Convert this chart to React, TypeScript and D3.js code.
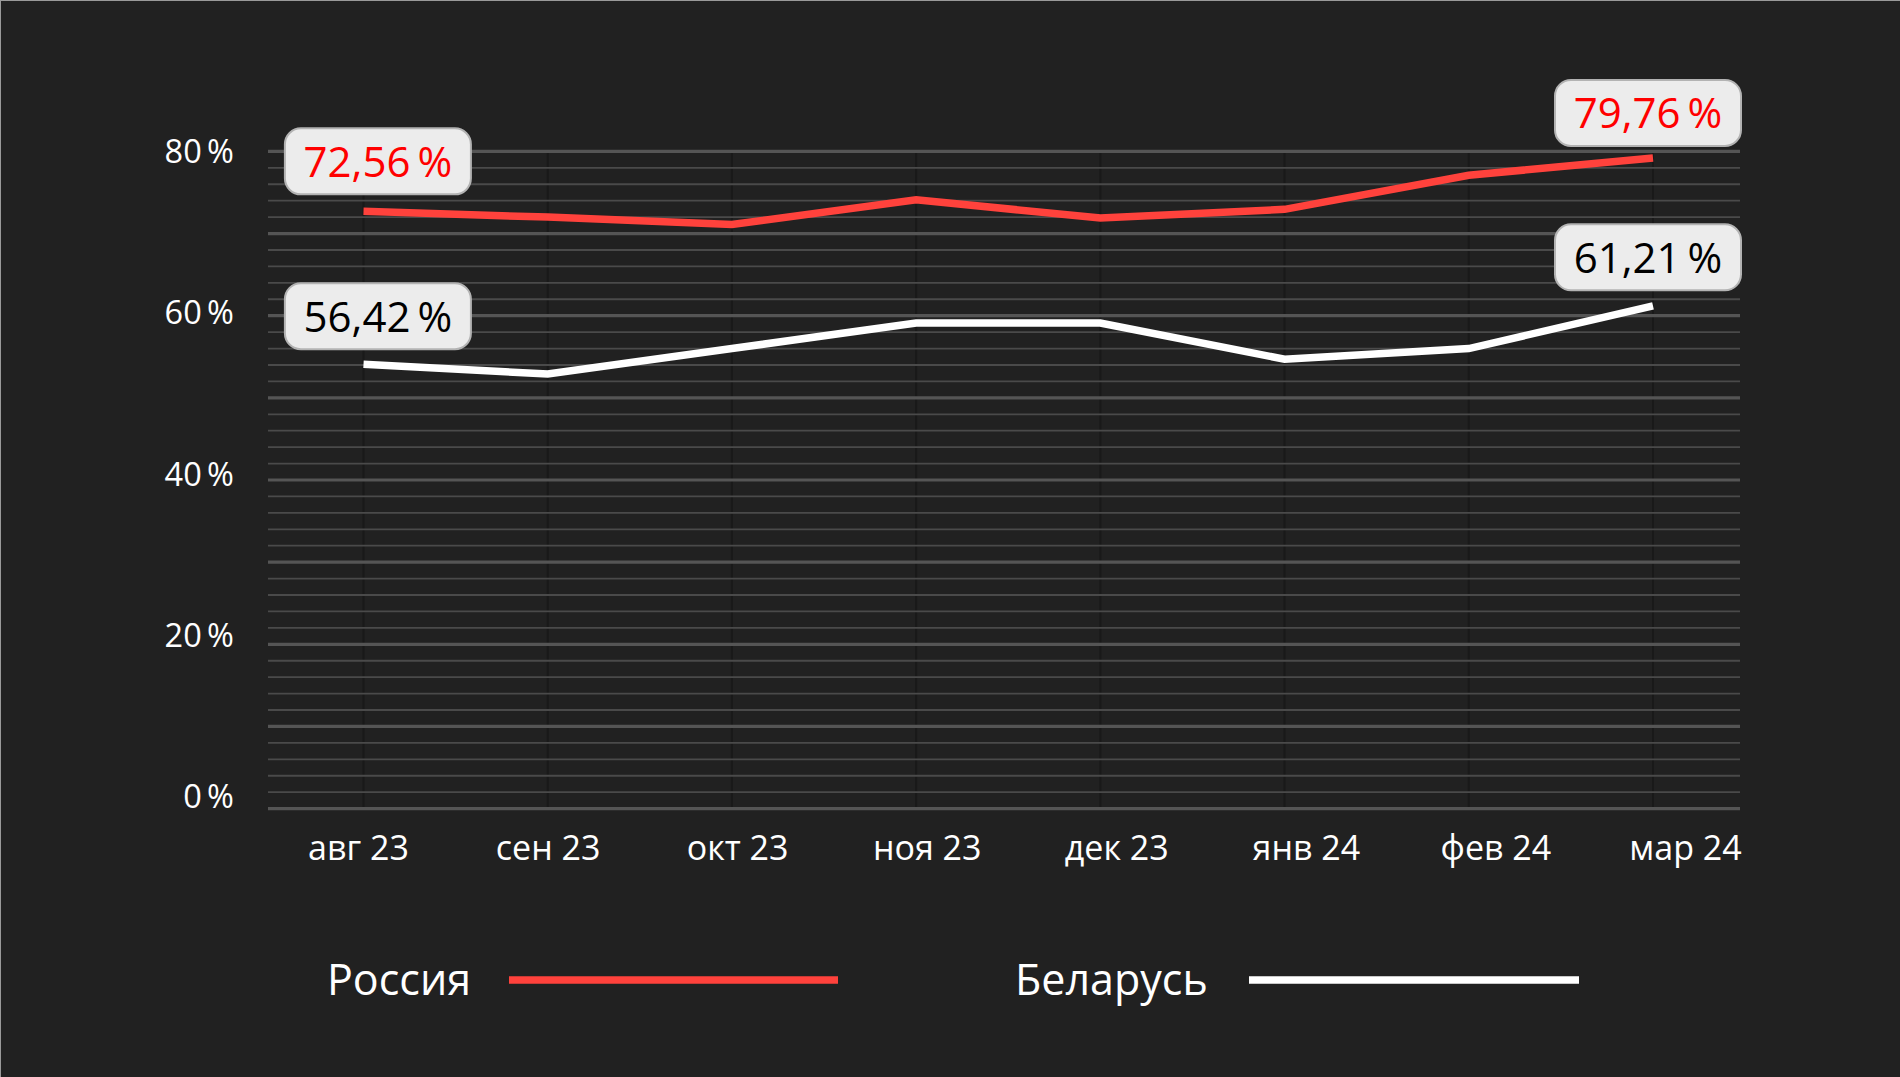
import React from "react";
import * as d3 from "d3";

const months = ["авг 23", "сен 23", "окт 23", "ноя 23", "дек 23", "янв 24", "фев 24", "мар 24"];
const russia = [72.7, 72.0, 71.1, 74.1, 71.9, 72.95, 77.1, 79.2];
const belarus = [54.1, 52.9, 56.0, 59.1, 59.1, 54.7, 56.0, 61.2];
const yTicks = [0, 20, 40, 60, 80];
const seriesNames = ["Россия", "Беларусь"];
const annotationTexts = ["72,56\u2009%", "79,76\u2009%", "56,42\u2009%", "61,21\u2009%"];

const W = 1900;
const H = 1077;
const RED = "#ff423c";
const FONT = "'Open Sans', 'Noto Sans', sans-serif";

export default function App() {
  const x = d3.scalePoint<string>().domain(months).range([363.5, 1653]);
  const xLab = d3.scalePoint<string>().domain(months).range([358.5, 1685.5]);
  const y = d3.scaleLinear().domain([0, 80]).range([808.6, 151.4]);
  const yLab = d3.scaleLinear().domain([0, 80]).range([796.5, 151.5]);
  const grid = d3.range(0, 81, 2);

  const line = d3
    .line<number>()
    .x((_, i) => x(months[i]) as number)
    .y((d) => y(d));

  const gx0 = 268;
  const gx1 = 1740;

  const annots = [
    { text: annotationTexts[0], color: "#ff0000", cx: (x(months[0]) as number) + 14.4, cy: y(russia[0]) - 50 },
    { text: annotationTexts[1], color: "#ff0000", cx: (x(months[7]) as number) - 5, cy: y(russia[7]) - 45 },
    { text: annotationTexts[2], color: "#000000", cx: (x(months[0]) as number) + 14.4, cy: y(belarus[0]) - 48 },
    { text: annotationTexts[3], color: "#000000", cx: (x(months[7]) as number) - 5, cy: y(belarus[7]) - 48.5 },
  ];

  return (
    <div style={{ position: "fixed", left: 0, top: 0, width: W, height: H }}>
      <svg width={W} height={H} style={{ display: "block", fontFamily: FONT }}>
        <rect x={0} y={0} width={W} height={H} fill="#212121" />
        <line x1={0} y1={0.5} x2={W} y2={0.5} stroke="#9a9a9a" strokeWidth={1} />
        <line x1={0.5} y1={0} x2={0.5} y2={H} stroke="#9a9a9a" strokeWidth={1} />

        {months.map((m) => (
          <line
            key={"v" + m}
            x1={x(m)}
            x2={x(m)}
            y1={y(80)}
            y2={y(0)}
            stroke="#191919"
            strokeWidth={2}
          />
        ))}

        {grid.map((v) => (
          <line
            key={"g" + v}
            x1={gx0}
            x2={gx1}
            y1={y(v)}
            y2={y(v)}
            stroke={v % 10 === 0 ? "#555555" : "#4a4a4a"}
            strokeWidth={v % 10 === 0 ? 3.2 : 1.8}
          />
        ))}

        {yTicks.map((t) => (
          <text
            key={"yl" + t}
            x={234}
            y={yLab(t) + 11.5}
            textAnchor="end"
            fontSize={32.5}
            fill="#ffffff"
          >
            {t + "\u2009%"}
          </text>
        ))}

        {months.map((m) => (
          <text key={"xl" + m} x={xLab(m)} y={860} textAnchor="middle" fontSize={34} fill="#ffffff">
            {m}
          </text>
        ))}

        <path d={line(belarus) || ""} fill="none" stroke="#ffffff" strokeWidth={7.5} strokeLinejoin="miter" />
        <path d={line(russia) || ""} fill="none" stroke={RED} strokeWidth={7.5} strokeLinejoin="miter" />

        {annots.map((a, i) => (
          <g key={"a" + i}>
            <rect
              x={a.cx - 93}
              y={a.cy - 33}
              width={186}
              height={66}
              rx={16}
              ry={16}
              fill="#ececec"
              stroke="#b3b3b3"
              strokeWidth={2}
            />
            <text x={a.cx} y={a.cy + 15.5} textAnchor="middle" fontSize={42} fill={a.color}>
              {a.text}
            </text>
          </g>
        ))}

        <text x={327} y={995} fontSize={43} fill="#ffffff">
          {seriesNames[0]}
        </text>
        <line x1={509} x2={838} y1={980} y2={980} stroke={RED} strokeWidth={7.5} />
        <text x={1015} y={995} fontSize={43} fill="#ffffff">
          {seriesNames[1]}
        </text>
        <line x1={1249} x2={1579} y1={980} y2={980} stroke="#ffffff" strokeWidth={7.5} />
      </svg>
    </div>
  );
}
